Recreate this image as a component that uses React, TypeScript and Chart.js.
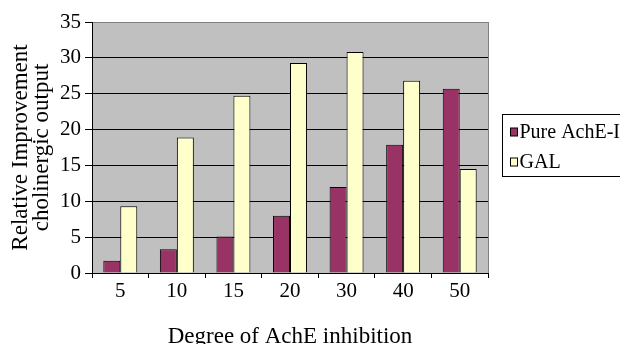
import React, { useEffect, useRef } from "react";
import { Chart, registerables } from "chart.js";

Chart.register(...registerables);

const categories = ["5", "10", "15", "20", "30", "40", "50"];
const pureAchE = [1.7, 3.3, 5.1, 8.0, 12.0, 17.9, 25.7];
const gal = [9.3, 18.9, 24.7, 29.3, 30.8, 26.8, 14.5];
const seriesLabels = ["Pure AchE-I", "GAL"];
const seriesColors = ["#993366", "#FFFFCC"];
const yTitle = ["Relative Improvement", "cholinergic output"];
const xTitle = "Degree of AchE inhibition";
const yMin = 0;
const yMax = 35;
const yStep = 5;

const FONT = "'Liberation Serif', 'Times New Roman', serif";

const plotBgPlugin = {
  id: "plotBg",
  beforeDraw(chart: any) {
    const { ctx, chartArea } = chart;
    ctx.save();
    ctx.fillStyle = "#C0C0C0";
    ctx.fillRect(chartArea.left, chartArea.top, chartArea.right - chartArea.left, chartArea.bottom - chartArea.top);
    ctx.restore();
  },
  beforeDatasetsDraw(chart: any) {
    const { ctx, chartArea } = chart;
    ctx.save();
    ctx.strokeStyle = "#808080";
    ctx.lineWidth = 1;
    const x = Math.round(chartArea.right) + 0.5;
    ctx.beginPath();
    ctx.moveTo(x, chartArea.top);
    ctx.lineTo(x, chartArea.bottom);
    ctx.stroke();
    ctx.restore();
  },
};

const boxLegendPlugin = {
  id: "boxLegend",
  afterDraw(chart: any) {
    const { ctx, chartArea } = chart;
    const left = Math.round(chartArea.right) + 14.5;
    const top = 114.5;
    const h = 62;
    ctx.save();
    ctx.strokeStyle = "#000";
    ctx.lineWidth = 1;
    ctx.strokeRect(left, top, 140, h);
    ctx.font = `20px ${FONT}`;
    ctx.textBaseline = "middle";
    ctx.textAlign = "left";
    chart.data.datasets.forEach((ds: any, i: number) => {
      const cy = 132 + i * 30;
      ctx.fillStyle = ds.backgroundColor;
      ctx.fillRect(left + 8, cy - 4, 7, 8);
      ctx.strokeStyle = "#000";
      ctx.strokeRect(left + 8, cy - 4, 7, 8);
      ctx.fillStyle = "#000";
      ctx.fillText(ds.label, left + 17, cy + 1);
    });
    ctx.restore();
  },
};

export default function App() {
  const ref = useRef<HTMLCanvasElement>(null);
  useEffect(() => {
    if (!ref.current) return;
    const chart = new Chart(ref.current, {
      type: "bar",
      data: {
        labels: categories,
        datasets: [
          {
            label: seriesLabels[0],
            data: pureAchE,
            backgroundColor: seriesColors[0],
            borderColor: "#000",
            borderWidth: 1,
            categoryPercentage: 0.6,
            barPercentage: 1.0,
          },
          {
            label: seriesLabels[1],
            data: gal,
            backgroundColor: seriesColors[1],
            borderColor: "#000",
            borderWidth: 1,
            categoryPercentage: 0.6,
            barPercentage: 1.0,
          },
        ],
      },
      options: {
        animation: false,
        responsive: false,
        maintainAspectRatio: false,
        layout: { padding: { left: 0, top: 22, right: 132, bottom: 0 } },
        plugins: {
          legend: { display: false },
          tooltip: { enabled: false },
        },
        scales: {
          x: {
            offset: true,
            grid: {
              display: true,
              drawOnChartArea: false,
              offset: true,
              tickLength: 5,
              color: "#000",
              tickColor: "#000",
            },
            border: { display: true, color: "#000", width: 1 },
            ticks: {
              color: "#000",
              font: { family: FONT, size: 21 },
              padding: 1,
              maxRotation: 0,
            },
            title: {
              display: true,
              text: xTitle,
              color: "#000",
              font: { family: FONT, size: 23, lineHeight: 1.0 },
              padding: { top: 0, bottom: -4.5 },
            },
            afterFit(scale: any) {
              scale.height = 71;
            },
          },
          y: {
            min: yMin,
            max: yMax,
            ticks: {
              stepSize: yStep,
              color: "#000",
              font: { family: FONT, size: 21 },
              padding: 4,
            },
            grid: {
              color: (c: any) => (c.tick && c.tick.value === yMax ? "#808080" : "#000"),
              tickColor: "#000",
              tickLength: 7,
              lineWidth: 1,
            },
            border: { display: true, color: "#000", width: 1 },
            title: {
              display: true,
              text: yTitle,
              color: "#000",
              font: { family: FONT, size: 23, lineHeight: 0.9 },
              padding: { top: 10.5, bottom: 0 },
            },
            afterFit(scale: any) {
              scale.width = 92;
            },
          },
        },
      },
      plugins: [plotBgPlugin, boxLegendPlugin],
    } as any);
    return () => chart.destroy();
  }, []);
  return (
    <div style={{ position: "absolute", left: 0, top: 0, width: 620, height: 344, background: "#fff" }}>
      <canvas ref={ref} width={620} height={344} />
    </div>
  );
}
